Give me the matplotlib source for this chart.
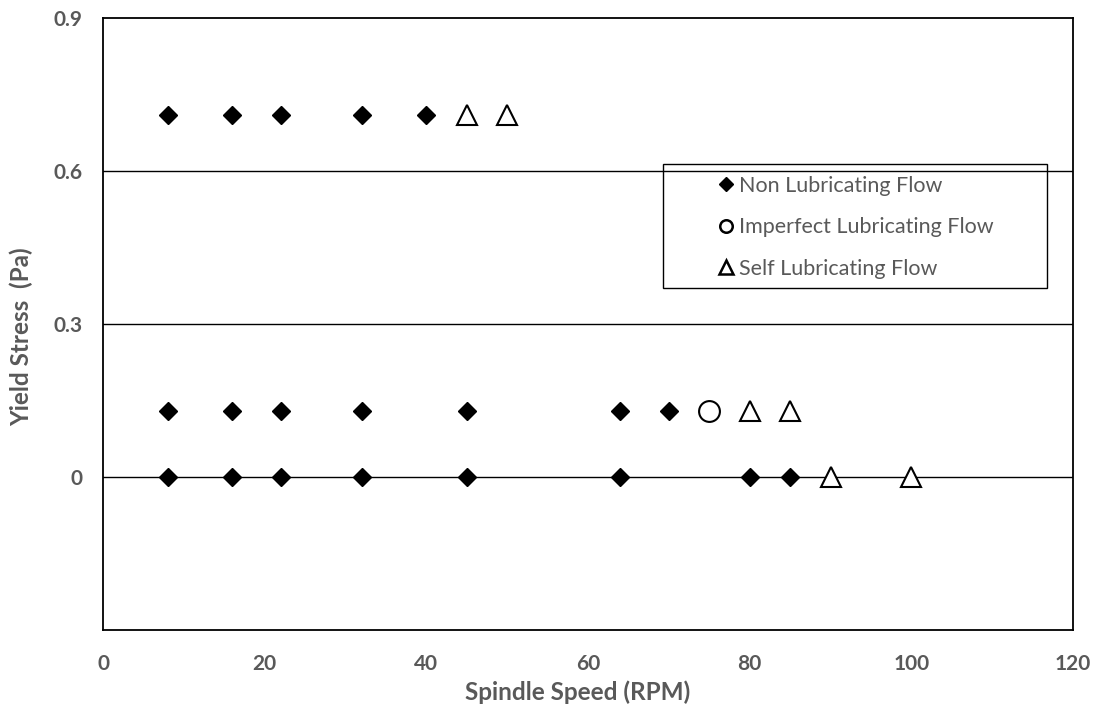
import matplotlib.pyplot as plt
from matplotlib.lines import Line2D
from matplotlib.patches import Rectangle

# data
non_x = [8, 16, 22, 32, 40, 8, 16, 22, 32, 45, 64, 70, 8, 16, 22, 32, 45, 64, 80, 85]
non_y = [0.71] * 5 + [0.13] * 7 + [0.0] * 8
imp_x = [75]
imp_y = [0.13]
self_x = [45, 50, 80, 85, 90, 100]
self_y = [0.71, 0.71, 0.13, 0.13, 0.0, 0.0]

xticks = [0, 20, 40, 60, 80, 100, 120]
yticks = [-0.3, 0, 0.3, 0.6, 0.9]
ylabels = ["", "0", "0.3", "0.6", "0.9"]

grey = "#595959"
plt.rcParams["font.family"] = ["Lato", "DejaVu Sans"]

fig = plt.figure(figsize=(10.96, 7.06), dpi=100)
ax = fig.add_axes([103 / 1096, 1 - 630 / 706, 970 / 1096, 612 / 706])

for y in [0, 0.3, 0.6]:
    ax.axhline(y, color="black", lw=1.0, zorder=1)

ax.plot(non_x, non_y, ls="none", marker="D", ms=9.5, color="black", zorder=3)
ax.plot(imp_x, imp_y, ls="none", marker="o", ms=15, mfc="white", mec="black", mew=1.5, zorder=3)
ax.plot(self_x, self_y, ls="none", marker="^", ms=15, mfc="white", mec="black", mew=1.5, zorder=3)

ax.set_xlim(0, 120)
ax.set_ylim(-0.3, 0.9)
ax.set_xticks(xticks)
ax.set_xticklabels([str(t) for t in xticks], fontsize=15, fontweight="bold", color=grey)
ax.set_yticks(yticks)
ax.set_yticklabels(ylabels, fontsize=15, fontweight="bold", color=grey)
ax.tick_params(length=0)
ax.tick_params(axis="x", pad=17)
ax.tick_params(axis="y", pad=15)
for s in ax.spines.values():
    s.set_linewidth(1.3)
    s.set_color("black")

ax.set_xlabel("Spindle Speed (RPM)", fontsize=17.5, fontweight="bold", color=grey)
ax.set_ylabel("Yield Stress  (Pa)", fontsize=17.5, fontweight="bold", color=grey)
ax.xaxis.set_label_coords(0.489, -0.082)
ax.yaxis.set_label_coords(-0.072, 0.48)

# legend frame drawn separately so the entries can sit indented inside it
ax.add_patch(Rectangle((0.577, 0.559), 0.396, 0.202, transform=ax.transAxes,
                       fill=False, edgecolor="black", lw=1.0, zorder=4))
handles = [
    Line2D([], [], ls="none", marker="D", ms=7.3, color="black"),
    Line2D([], [], ls="none", marker="o", ms=9, mfc="white", mec="black", mew=1.8),
    Line2D([], [], ls="none", marker="^", ms=10, mfc="white", mec="black", mew=1.8),
]
labels = ["Non Lubricating Flow", "Imperfect Lubricating Flow", "Self Lubricating Flow"]
leg = ax.legend(handles, labels, loc="upper left", bbox_to_anchor=(0.633, 0.742),
                frameon=False, fontsize=15.5, labelcolor=grey, handlelength=0.8,
                handletextpad=0.2, labelspacing=1.0, borderpad=0, borderaxespad=0)

fig.savefig("out.png", dpi=100)
